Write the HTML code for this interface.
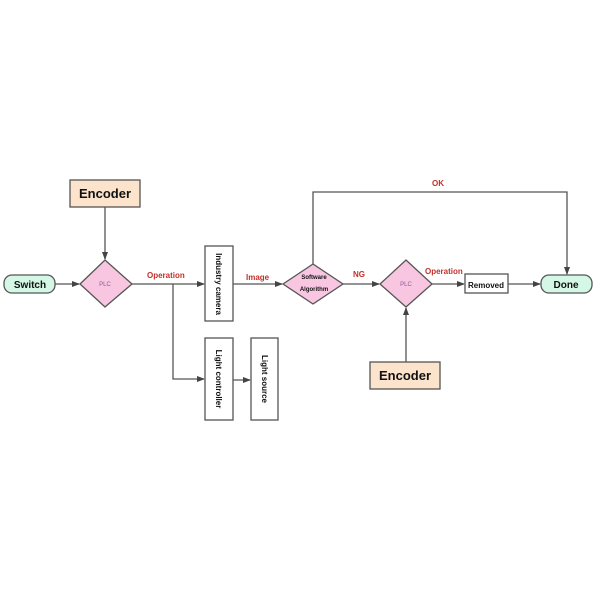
<!DOCTYPE html>
<html><head><style>body{margin:0;background:#fff}</style></head><body>
<svg width="600" height="600" viewBox="0 0 600 600" xmlns="http://www.w3.org/2000/svg" font-family="Liberation Sans, sans-serif">
<defs><marker id="a" markerWidth="8" markerHeight="8" refX="7" refY="4" orient="auto" markerUnits="userSpaceOnUse"><path d="M0,1 L8,4 L0,7 z" fill="#444"/></marker></defs>
<g stroke="#555" stroke-width="1.3" fill="none">
<line x1="105" y1="207" x2="105" y2="259" marker-end="url(#a)"/>
<line x1="55" y1="284" x2="79" y2="284" marker-end="url(#a)"/>
<line x1="132" y1="284" x2="204" y2="284" marker-end="url(#a)"/>
<polyline points="173,284 173,379 204,379" marker-end="url(#a)"/>
<line x1="233" y1="284" x2="282" y2="284" marker-end="url(#a)"/>
<line x1="233" y1="380" x2="250" y2="380" marker-end="url(#a)"/>
<line x1="343" y1="284" x2="379" y2="284" marker-end="url(#a)"/>
<polyline points="313,264 313,192 567,192 567,274" marker-end="url(#a)"/>
<line x1="432" y1="284" x2="464" y2="284" marker-end="url(#a)"/>
<line x1="508" y1="284" x2="540" y2="284" marker-end="url(#a)"/>
<line x1="406" y1="362" x2="406" y2="308" marker-end="url(#a)"/>
</g>
<g stroke="#555" stroke-width="1.3">
<rect x="70" y="180" width="70" height="27" fill="#fce3cc"/>
<rect x="370" y="362" width="70" height="27" fill="#fce3cc"/>
<rect x="4" y="275" width="51" height="18" rx="8" fill="#d4f7e6"/>
<rect x="541" y="275" width="51" height="18" rx="8" fill="#d4f7e6"/>
<polygon points="80,284 105,260 132,284 105,307" fill="#f8c6e0"/>
<polygon points="380,284 406,260 432,284 406,307" fill="#f8c6e0"/>
<polygon points="283,284 313,264 343,284 313,304" fill="#f8c6e0"/>
<rect x="205" y="246" width="28" height="75" fill="#fff"/>
<rect x="205" y="338" width="28" height="82" fill="#fff"/>
<rect x="251" y="338" width="27" height="82" fill="#fff"/>
<rect x="465" y="274" width="43" height="19" fill="#fff"/>
</g>
<g font-weight="bold" fill="#111">
<text x="105" y="198" font-size="13" text-anchor="middle">Encoder</text>
<text x="405" y="380" font-size="13" text-anchor="middle">Encoder</text>
<text x="30" y="288" font-size="10" text-anchor="middle">Switch</text>
<text x="566" y="288" font-size="10" text-anchor="middle">Done</text>
<text x="486" y="288" font-size="8" text-anchor="middle">Removed</text>
<text x="314" y="279" font-size="6" text-anchor="middle">Software</text>
<text x="314" y="291" font-size="6" text-anchor="middle">Algorithm</text>
<text transform="translate(216,284) rotate(90)" font-size="8" text-anchor="middle">Industry camera</text>
<text transform="translate(216,379) rotate(90)" font-size="8" text-anchor="middle">Light controller</text>
<text transform="translate(262,379) rotate(90)" font-size="8" text-anchor="middle">Light source</text>
</g>
<g fill="#8a5a9a" font-size="6" text-anchor="middle">
<text x="105" y="286">PLC</text><text x="406" y="286">PLC</text>
</g>
<g fill="#c0302a" font-weight="bold" font-size="8">
<text x="147" y="278">Operation</text>
<text x="246" y="280">Image</text>
<text x="353" y="277">NG</text>
<text x="425" y="274">Operation</text>
<text x="432" y="186">OK</text>
</g>
</svg>
</body></html>
